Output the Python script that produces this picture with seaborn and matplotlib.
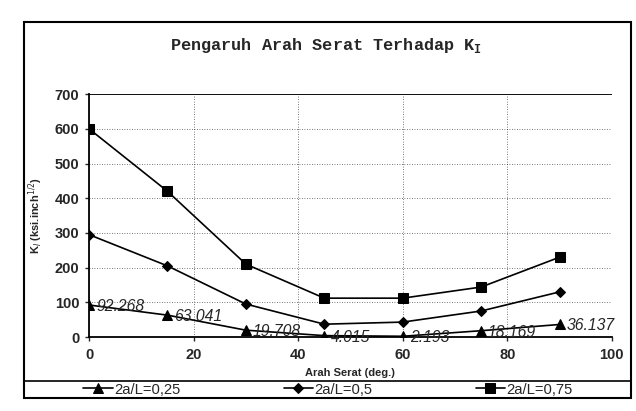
import pandas as pd
import seaborn as sns
import matplotlib.pyplot as plt
from matplotlib.patches import Rectangle

# data
arah_serat = [0, 15, 30, 45, 60, 75, 90]
ki_025 = [92.268, 63.041, 19.708, 4.015, 2.193, 18.169, 36.137]
ki_05 = [295, 205, 95, 37, 43, 75, 130]
ki_075 = [600, 420, 210, 112, 112, 144, 230]
series_names = ["2a/L=0,25", "2a/L=0,5", "2a/L=0,75"]
point_labels = ["92.268", "63.041", "19.708", "4.015", "2.193", "18.169", "36.137"]

df = pd.DataFrame({
    "Arah": arah_serat * 3,
    "KI": ki_025 + ki_05 + ki_075,
    "Seri": [series_names[0]] * 7 + [series_names[1]] * 7 + [series_names[2]] * 7,
})

sns.set_style("white")
plt.rcParams["font.family"] = ["Liberation Sans", "DejaVu Sans"]

fig = plt.figure(figsize=(6.36, 4.11), dpi=100)
ax = fig.add_axes([0.14, 0.18, 0.822, 0.591])

marker_map = {series_names[0]: "^", series_names[1]: "D", series_names[2]: "s"}
sns.lineplot(data=df, x="Arah", y="KI", hue="Seri", style="Seri",
             palette=["black"] * 3, markers=marker_map,
             dashes=False, linewidth=1.2, markeredgecolor="black",
             ax=ax, legend=True)
sizes = [6.5, 5.5, 7]
for ln, ms in zip(ax.lines[:3], sizes):
    ln.set_markersize(ms)

# labels on the 2a/L=0,25 points
for xv, yv, lab in zip(arah_serat, ki_025, point_labels):
    ax.annotate(lab, (xv, yv), xytext=(5, -1), textcoords="offset points",
                fontsize=11.3, style="italic", va="center", ha="left")

ax.set_xlim(0, 100)
ax.set_ylim(0, 700)
ax.set_xticks(range(0, 101, 20))
ax.set_yticks(range(0, 701, 100))
ax.grid(True, linestyle=(0, (1, 2)), color="black", linewidth=0.6, alpha=0.7)
for s in ["top", "right"]:
    ax.spines[s].set_visible(False)
for s in ["left", "bottom"]:
    ax.spines[s].set_linewidth(1.3)
    ax.spines[s].set_color("black")
ax.axhline(700, color="black", linewidth=1.3)
ax.tick_params(axis="both", labelsize=10.5, length=3, direction="out", bottom=True, left=True, width=1)
ax.tick_params(axis="y", pad=4)
ax.tick_params(axis="x", pad=5)
for t in ax.get_xticklabels() + ax.get_yticklabels():
    t.set_fontweight("bold")

ax.set_xlabel("Arah Serat (deg.)", fontsize=8, fontweight="bold", labelpad=4)
ax.set_ylabel("K$_I$ (ksi.inch$^{1/2}$)", fontsize=8, fontweight="bold", labelpad=7)

fig.text(0.512, 0.89, "Pengaruh Arah Serat Terhadap K$_\\mathregular{I}$", ha="center", va="center",
         fontsize=12.2, fontweight="bold", family="Liberation Mono")

# outer frame
fig.patches.append(Rectangle((0.038, 0.032), 0.954, 0.914, transform=fig.transFigure,
                             fill=False, edgecolor="black", linewidth=1.5))
# legend band
fig.patches.append(Rectangle((0.038, 0.032), 0.954, 0.041, transform=fig.transFigure,
                             fill=False, edgecolor="black", linewidth=1.2))

handles, labels = ax.get_legend_handles_labels()
ax.get_legend().remove()
for h, ms in zip(handles, sizes):
    h.set_markersize(ms)
leg = fig.legend(handles, labels, loc="center", bbox_to_anchor=(0.516, 0.052),
                 ncol=3, fontsize=10.6, frameon=False,
                 handlelength=2.0, handletextpad=0.1, columnspacing=7.0, borderaxespad=0)

fig.savefig("out.png", dpi=100)
